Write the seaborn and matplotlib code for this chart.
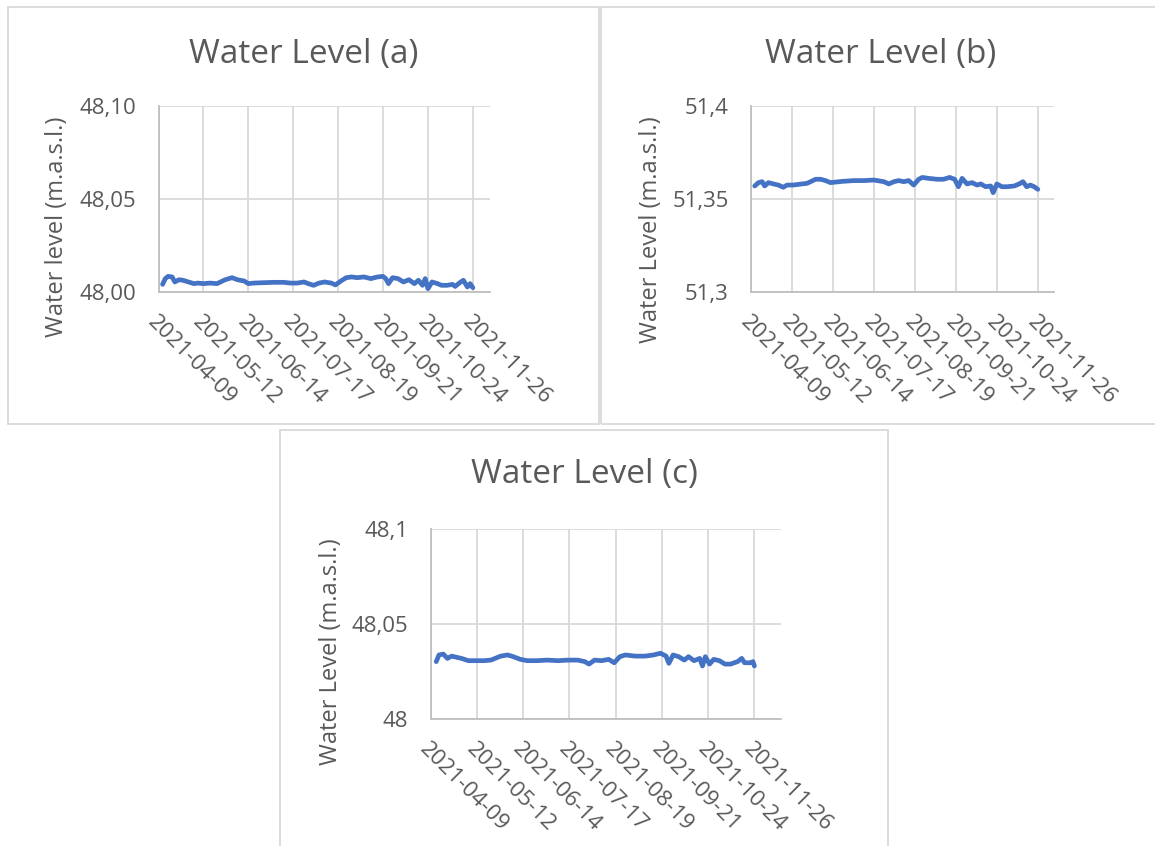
import pandas as pd
import matplotlib
matplotlib.use("Agg")
import matplotlib.pyplot as plt
import matplotlib.dates as mdates
from matplotlib.patches import Rectangle
from matplotlib.ticker import FuncFormatter
import seaborn as sns

# Time axis: day offsets counted from the first tick date
START = pd.Timestamp("2021-04-09")
tick_labels = ["2021-04-09", "2021-05-12", "2021-06-14", "2021-07-17",
               "2021-08-19", "2021-09-21", "2021-10-24", "2021-11-26"]

# Station (a)
days_a = [3, 5, 7, 10, 12, 15, 18, 22, 26, 29, 33, 38, 43, 47, 49, 54, 58, 63, 66, 70,
          77, 85, 92, 97, 102, 107, 110, 114, 118, 122, 127, 130, 134, 138, 142, 146, 151, 156, 161, 165,
          167, 169, 172, 176, 180, 184, 188, 191, 194, 196, 198, 201, 205, 208, 212, 216, 218, 221, 224, 227,
          229, 231]
level_a = [48.0041, 48.0072, 48.0084, 48.0081, 48.0054, 48.0066, 48.0063, 48.0054, 48.0045, 48.0048,
           48.0045, 48.0048, 48.0045, 48.0059, 48.0066, 48.0077, 48.0066, 48.0059, 48.0045, 48.0048,
           48.0050, 48.0052, 48.0052, 48.0048, 48.0048, 48.0054, 48.0045, 48.0036, 48.0048, 48.0054,
           48.0048, 48.0038, 48.0059, 48.0077, 48.0081, 48.0077, 48.0081, 48.0072, 48.0081, 48.0084,
           48.0072, 48.0045, 48.0077, 48.0072, 48.0054, 48.0066, 48.0045, 48.0063, 48.0036, 48.0072,
           48.0018, 48.0054, 48.0045, 48.0036, 48.0036, 48.0041, 48.0030, 48.0048, 48.0063, 48.0027,
           48.0045, 48.0023]

# Station (b)
days_b = [3, 6, 9, 11, 14, 18, 22, 26, 29, 34, 41, 45, 48, 52, 56, 60, 64, 68, 74, 83,
          91, 99, 107, 111, 115, 119, 123, 127, 131, 135, 138, 143, 150, 155, 160, 164, 167, 170, 174, 178,
          182, 185, 189, 193, 195, 198, 202, 206, 212, 216, 219, 222, 225, 228, 231]
level_b = [51.3570, 51.3588, 51.3593, 51.3570, 51.3588, 51.3581, 51.3575, 51.3563, 51.3575, 51.3575,
           51.3581, 51.3584, 51.3593, 51.3606, 51.3606, 51.3599, 51.3588, 51.3591, 51.3595, 51.3599,
           51.3599, 51.3602, 51.3593, 51.3581, 51.3593, 51.3599, 51.3593, 51.3599, 51.3575, 51.3606,
           51.3616, 51.3611, 51.3606, 51.3606, 51.3616, 51.3606, 51.3566, 51.3611, 51.3581, 51.3588,
           51.3575, 51.3581, 51.3566, 51.3570, 51.3534, 51.3581, 51.3566, 51.3566, 51.3570, 51.3581,
           51.3593, 51.3566, 51.3575, 51.3566, 51.3552]

# Station (c)
days_c = [4, 6, 9, 12, 15, 19, 22, 27, 32, 38, 43, 46, 50, 55, 59, 64, 69, 76, 83, 91,
          98, 105, 110, 113, 117, 122, 127, 131, 135, 139, 146, 153, 159, 164, 168, 170, 173, 177, 181, 184,
          188, 192, 194, 196, 199, 202, 206, 210, 214, 219, 222, 224, 228, 230, 231]
level_c = [48.0302, 48.0337, 48.0342, 48.0319, 48.0331, 48.0324, 48.0319, 48.0307, 48.0307, 48.0307,
           48.0310, 48.0319, 48.0331, 48.0337, 48.0328, 48.0314, 48.0307, 48.0307, 48.0310, 48.0307,
           48.0310, 48.0310, 48.0302, 48.0289, 48.0310, 48.0307, 48.0314, 48.0296, 48.0328, 48.0337,
           48.0331, 48.0331, 48.0337, 48.0346, 48.0331, 48.0293, 48.0337, 48.0328, 48.0310, 48.0328,
           48.0307, 48.0319, 48.0279, 48.0328, 48.0289, 48.0314, 48.0307, 48.0289, 48.0289, 48.0302,
           48.0319, 48.0296, 48.0296, 48.0302, 48.0279]

TEXT = "#595959"
GRID = "#d9d9d9"
AXIS = "#bfbfbf"
LINE = "#4472C4"

sns.set_theme(style="white")
plt.rcParams["font.family"] = ["Open Sans", "DejaVu Sans"]

W, H = 1155, 846
fig = plt.figure(figsize=(W / 100, H / 100), dpi=100)


def fx(x):
    return x / W


def fy(y):
    return 1 - y / H


def fmt_fixed(v, _):
    return f"{v:.2f}".replace(".", ",")


def fmt_general(v, _):
    s = f"{v:.2f}".rstrip("0").rstrip(".")
    return s.replace(".", ",")


panels = [
    dict(days=days_a, level=level_a, title="Water Level (a)", ylabel="Water level (m.a.s.l.)",
         box=(8, 7, 599, 424), area=(158.5, 106, 490, 292), xend=243.6,
         ylim=(48.0, 48.1), yticks=[48.0, 48.05, 48.1], fmt=fmt_fixed,
         title_xy=(304, 54), ylabel_xy=(57, 227)),
    dict(days=days_b, level=level_b, title="Water Level (b)", ylabel="Water Level (m.a.s.l.)",
         box=(601, 7, 1170, 424), area=(751, 106, 1054, 292), xend=244,
         ylim=(51.3, 51.4), yticks=[51.3, 51.35, 51.4], fmt=fmt_general,
         title_xy=(881, 54), ylabel_xy=(651, 230)),
    dict(days=days_c, level=level_c, title="Water Level (c)", ylabel="Water Level (m.a.s.l.)",
         box=(280, 430, 888, 860), area=(430.6, 529, 781, 719), xend=250,
         ylim=(48.0, 48.1), yticks=[48.0, 48.05, 48.1], fmt=fmt_general,
         title_xy=(584, 474), ylabel_xy=(331, 652)),
]

tick_dates = pd.to_datetime(tick_labels)

for p in panels:
    bx0, by0, bx1, by1 = p["box"]
    fig.add_artist(Rectangle((fx(bx0), fy(by1)), fx(bx1) - fx(bx0), fy(by0) - fy(by1),
                             transform=fig.transFigure, fill=False,
                             edgecolor=GRID, lw=1.3, clip_on=False))

    l, t, r, b = p["area"]
    ax = fig.add_axes([fx(l), fy(b), fx(r) - fx(l), fy(t) - fy(b)])
    df = pd.DataFrame({
        "date": START + pd.to_timedelta(p["days"], unit="D"),
        "level": p["level"],
    })
    sns.lineplot(data=df, x="date", y="level", ax=ax, color=LINE, lw=3.4,
                 estimator=None, sort=False)

    ax.set_xlim(START, START + pd.Timedelta(days=p["xend"]))
    ax.set_ylim(*p["ylim"])
    ax.set_xticks(tick_dates)
    ax.xaxis.set_major_formatter(mdates.DateFormatter("%Y-%m-%d"))
    ax.set_yticks(p["yticks"])
    ax.yaxis.set_major_formatter(FuncFormatter(p["fmt"]))

    ax.grid(True, color=GRID, lw=1.3)
    ax.set_axisbelow(True)
    for side in ("top", "right"):
        ax.spines[side].set_visible(False)
    for side in ("left", "bottom"):
        ax.spines[side].set_color(AXIS)
        ax.spines[side].set_linewidth(1.3)

    ax.tick_params(axis="y", length=0, labelsize=16, labelcolor=TEXT, pad=16)
    ax.tick_params(axis="x", length=0, labelsize=16, labelcolor=TEXT, pad=14)
    for lab in ax.get_xticklabels():
        lab.set_rotation(-45)
        lab.set_rotation_mode("anchor")
        lab.set_ha("left")
        lab.set_va("top")

    ax.set_xlabel("")
    ax.set_ylabel("")
    ax.set_facecolor("white")

    fig.text(fx(p["title_xy"][0]), fy(p["title_xy"][1]), p["title"], ha="center", va="center",
             fontsize=24, color=TEXT)
    fig.text(fx(p["ylabel_xy"][0]), fy(p["ylabel_xy"][1]), p["ylabel"], ha="center", va="center",
             rotation=90, fontsize=17, color=TEXT)

fig.savefig("out.png", dpi=100, facecolor="white")
